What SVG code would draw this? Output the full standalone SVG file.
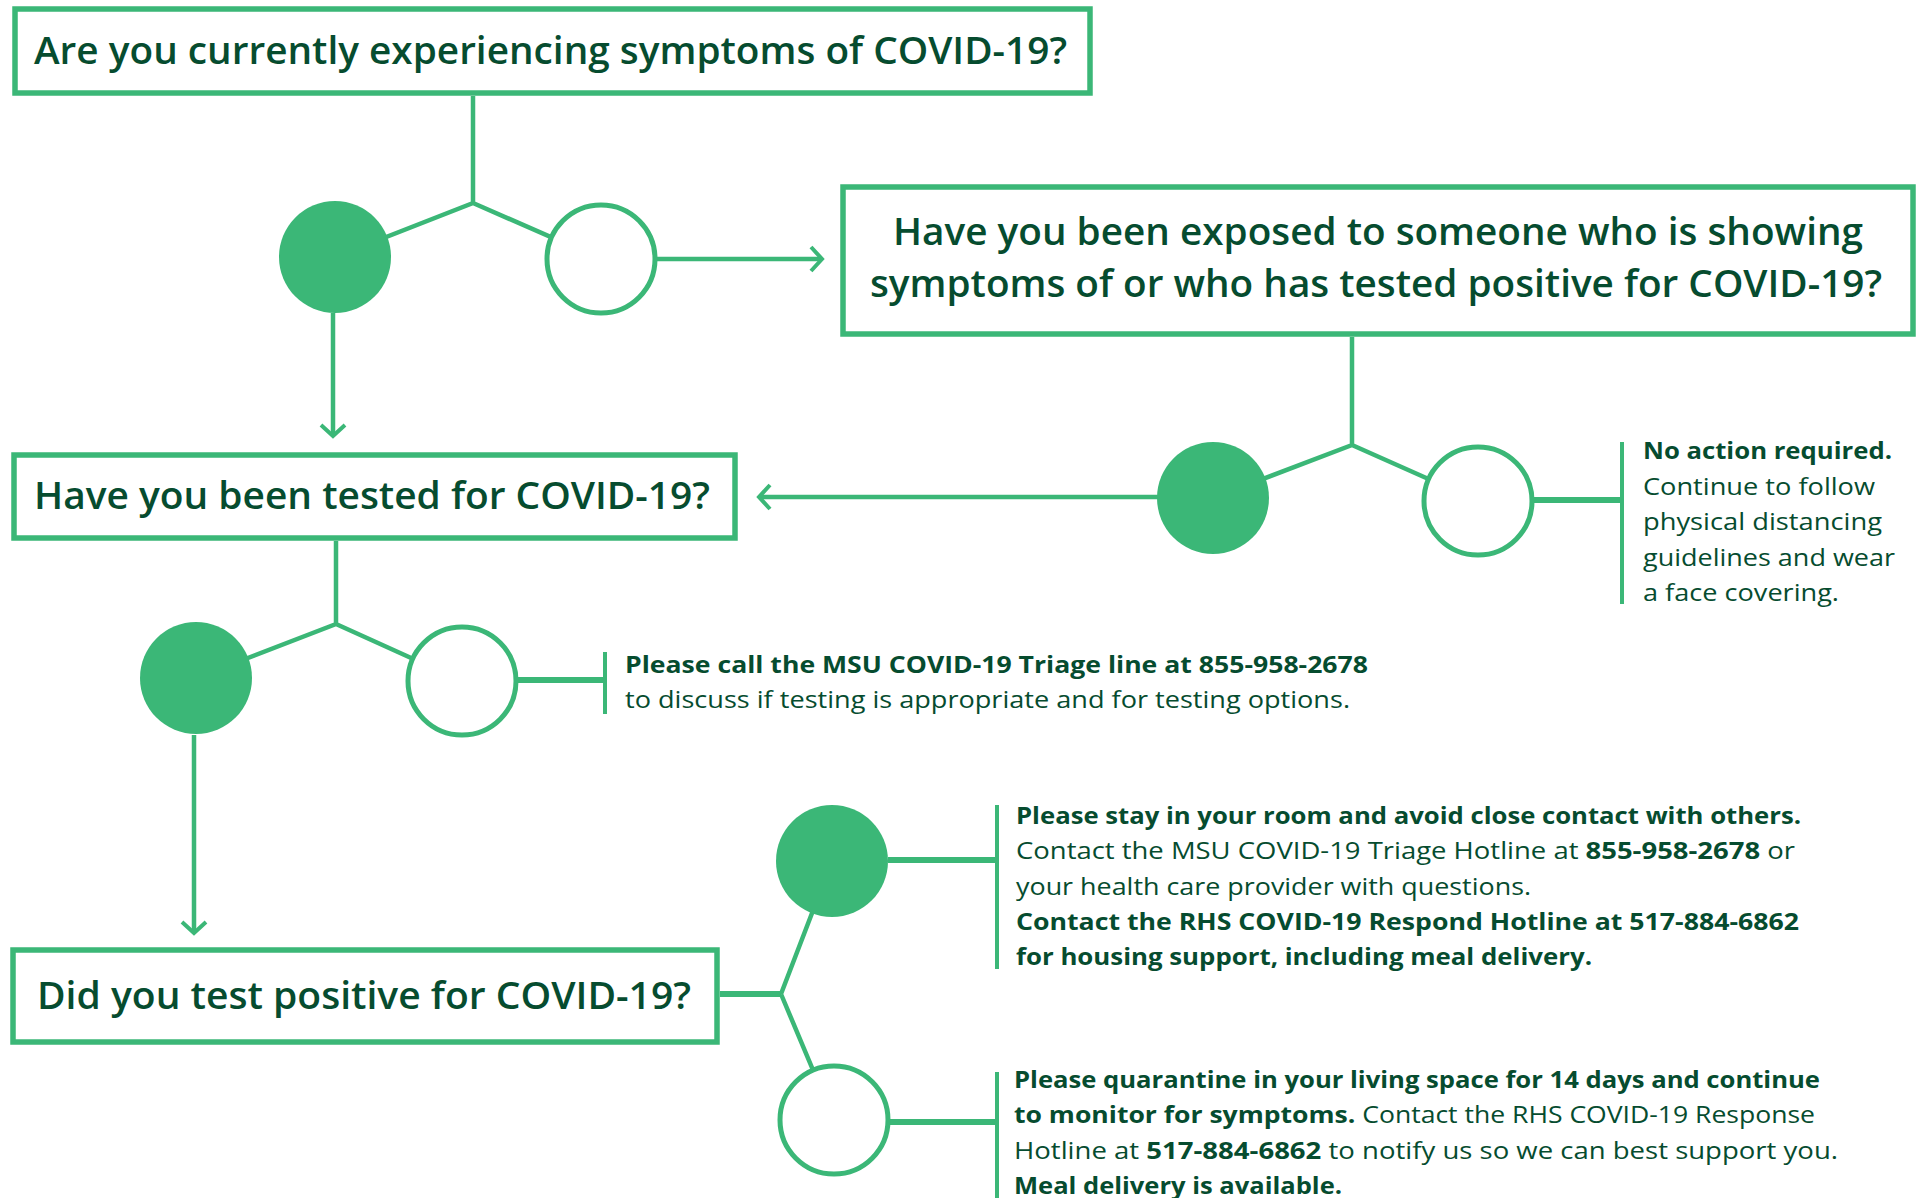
<svg xmlns="http://www.w3.org/2000/svg" width="1925" height="1198" viewBox="0 0 1925 1198">
<style>
.box{fill:#fff;stroke:#3bb777;stroke-width:5.5}
.ln{fill:none;stroke:#3bb777;stroke-width:4.5}
.thk{fill:none;stroke:#3bb777;stroke-width:6}
.bar{fill:none;stroke:#3bb777;stroke-width:4}
.fc{fill:#3bb777}
.oc{fill:#fff;stroke:#3bb777;stroke-width:5}
.t{font-family:"Open Sans","Liberation Sans",sans-serif;font-weight:600;font-size:38px;fill:#064c2f}
.b{font-family:"Open Sans","Liberation Sans",sans-serif;font-size:23px;fill:#064c2f}
.bb{font-weight:700}
</style>
<defs>
<marker id="chev" markerUnits="userSpaceOnUse" viewBox="-14 -15 17 30" refX="0" refY="0" markerWidth="17" markerHeight="30" orient="auto">
<path d="M-11 -12 L0 0 L-11 12" fill="none" stroke="#3bb777" stroke-width="4"/>
</marker>
</defs>
<rect width="1925" height="1198" fill="#fff"/>
<g id="connectors">
<path class="ln" d="M473 96 V203 L335 257 M473 203 L601 259"/>
<path class="ln" d="M656 259 H822" marker-end="url(#chev)"/>
<path class="ln" d="M333 313 V436" marker-end="url(#chev)"/>
<path class="ln" d="M1352 337 V445 L1213 498 M1352 445 L1478 501"/>
<path class="ln" d="M1158 497 H759" marker-end="url(#chev)"/>
<path class="thk" d="M1534 500 H1622"/>
<path class="bar" d="M1622 442 V604"/>
<path class="ln" d="M336 541 V624 L196 678 M336 624 L462 681"/>
<path class="thk" d="M518 680 H605"/>
<path class="bar" d="M605 652 V714"/>
<path class="ln" d="M194 735 V933" marker-end="url(#chev)"/>
<path class="thk" d="M720 994 H781"/>
<path class="ln" d="M781 994 L832 861 M781 994 L834 1120"/>
<path class="thk" d="M888 860 H997"/>
<path class="bar" d="M997 805 V969"/>
<path class="thk" d="M890 1122 H997"/>
<path class="bar" d="M997 1072 V1198"/>
</g>
<g id="q1">
<rect class="box" x="15" y="9" width="1075" height="84"/>
<text class="t" x="34" y="64" textLength="1033" lengthAdjust="spacingAndGlyphs">Are you currently experiencing symptoms of COVID-19?</text>
</g>
<g id="q1-yes"><circle class="fc" cx="335" cy="257" r="56"/></g>
<g id="q1-no"><circle class="oc" cx="601" cy="259" r="54"/></g>
<g id="q2">
<rect class="box" x="843" y="187" width="1070" height="147"/>
<text class="t" x="893" y="245" textLength="970" lengthAdjust="spacingAndGlyphs">Have you been exposed to someone who is showing</text>
<text class="t" x="870" y="297" textLength="1012" lengthAdjust="spacingAndGlyphs">symptoms of or who has tested positive for COVID-19?</text>
</g>
<g id="q2-yes"><circle class="fc" cx="1213" cy="498" r="56"/></g>
<g id="q2-no"><circle class="oc" cx="1478" cy="501" r="54"/></g>
<g id="no-action">
<text class="b bb" x="1643" y="459" textLength="249" lengthAdjust="spacingAndGlyphs">No action required.</text>
<text class="b" x="1643" y="495" textLength="232" lengthAdjust="spacingAndGlyphs">Continue to follow</text>
<text class="b" x="1643" y="530" textLength="239" lengthAdjust="spacingAndGlyphs">physical distancing</text>
<text class="b" x="1643" y="566" textLength="252" lengthAdjust="spacingAndGlyphs">guidelines and wear</text>
<text class="b" x="1643" y="601" textLength="196" lengthAdjust="spacingAndGlyphs">a face covering.</text>
</g>
<g id="q3">
<rect class="box" x="14" y="455" width="721" height="83"/>
<text class="t" x="34" y="509" textLength="676" lengthAdjust="spacingAndGlyphs">Have you been tested for COVID-19?</text>
</g>
<g id="q3-yes"><circle class="fc" cx="196" cy="678" r="56"/></g>
<g id="q3-no"><circle class="oc" cx="462" cy="681" r="54"/></g>
<g id="call-triage">
<text class="b bb" x="625" y="673" textLength="743" lengthAdjust="spacingAndGlyphs">Please call the MSU COVID-19 Triage line at 855-958-2678</text>
<text class="b" x="625" y="708" textLength="725" lengthAdjust="spacingAndGlyphs">to discuss if testing is appropriate and for testing options.</text>
</g>
<g id="q4">
<rect class="box" x="13" y="950" width="704" height="92"/>
<text class="t" x="37" y="1009" textLength="654" lengthAdjust="spacingAndGlyphs">Did you test positive for COVID-19?</text>
</g>
<g id="q4-yes"><circle class="fc" cx="832" cy="861" r="56"/></g>
<g id="q4-no"><circle class="oc" cx="834" cy="1120" r="54"/></g>
<g id="positive-info">
<text class="b bb" x="1016" y="824" textLength="785" lengthAdjust="spacingAndGlyphs">Please stay in your room and avoid close contact with others.</text>
<text class="b" x="1016" y="859" textLength="779" lengthAdjust="spacingAndGlyphs">Contact the MSU COVID-19 Triage Hotline at <tspan class="bb">855-958-2678</tspan> or</text>
<text class="b" x="1016" y="895" textLength="515" lengthAdjust="spacingAndGlyphs">your health care provider with questions.</text>
<text class="b bb" x="1016" y="930" textLength="783" lengthAdjust="spacingAndGlyphs">Contact the RHS COVID-19 Respond Hotline at 517-884-6862</text>
<text class="b bb" x="1016" y="965" textLength="576" lengthAdjust="spacingAndGlyphs">for housing support, including meal delivery.</text>
</g>
<g id="negative-info">
<text class="b bb" x="1014" y="1088" textLength="806" lengthAdjust="spacingAndGlyphs">Please quarantine in your living space for 14 days and continue</text>
<text class="b" x="1014" y="1123" textLength="801" lengthAdjust="spacingAndGlyphs"><tspan class="bb">to monitor for symptoms.</tspan> Contact the RHS COVID-19 Response</text>
<text class="b" x="1014" y="1159" textLength="824" lengthAdjust="spacingAndGlyphs">Hotline at <tspan class="bb">517-884-6862</tspan> to notify us so we can best support you.</text>
<text class="b bb" x="1014" y="1194" textLength="328" lengthAdjust="spacingAndGlyphs">Meal delivery is available.</text>
</g>
</svg>
